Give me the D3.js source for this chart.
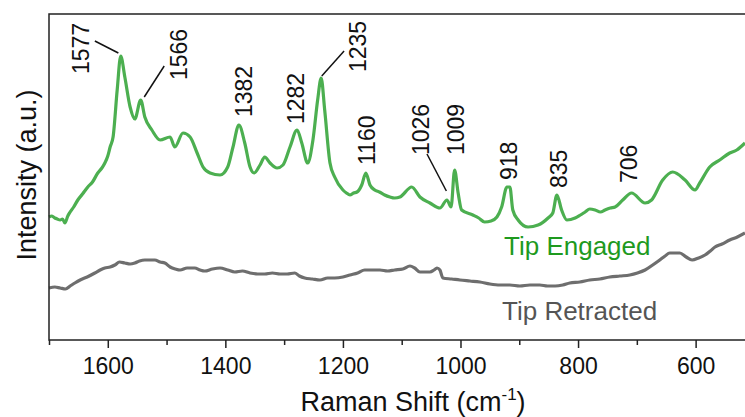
<!DOCTYPE html>
<html>
<head>
<meta charset="utf-8">
<script src="https://cdn.jsdelivr.net/npm/d3@7"></script>
<style>
  body { margin: 0; background: #fff; }
  text { font-family: "Liberation Sans", Arial, sans-serif; }
</style>
</head>
<body>
<script>
var WIDTH = 745, HEIGHT = 417;
var MARGIN = {left: 49, top: 14, right: 0, bottom: 77};

// Tip Engaged spectrum (Raman shift, intensity a.u.)
var engagedShift = [1700,1695,1690,1686,1681,1677,1673,1668,1664,1658,1651,1643,1634,1626,1617,1610,1605,1600,1596,1591,1584,1578,1571,1562,1554,1544,1537,1525,1511,1494,1486,1472,1460,1448,1438,1426,1409,1396,1387,1377,1367,1358,1351,1341,1333,1324,1312,1302,1290,1278,1270,1260,1251,1243,1237,1231,1222,1214,1200,1194,1188,1182,1176,1168,1161,1154,1146,1138,1129,1120,1112,1103,1083,1069,1052,1035,1023,1016,1010,1004,998,979,969,959,948,938,930,921,916,911,902,885,868,851,843,836,828,819,805,796,788,780,771,762,754,745,737,724,709,686,675,656,639,618,601,593,576,559,542,530,516];
var engagedIntensity = [123,124,122,121,120,121,117,124,128,133,140,146,153,158,167,172,177,184,193,203,250,284,263,233,221,240,223,210,200,203,193,207,203,187,173,167,165,173,193,215,197,173,167,175,183,177,172,175,193,210,197,177,200,240,262,230,177,163,150,147,145,147,148,155,167,155,150,148,145,143,142,143,153,143,137,132,140,133,170,147,130,125,122,118,119,123,133,153,153,130,120,113,115,122,127,145,130,120,122,125,128,131,130,128,130,132,133,140,147,137,140,160,168,160,150,157,173,180,187,190,197];

// Tip Retracted spectrum
var retractedShift = [1700,1690,1681,1672,1664,1656,1647,1635,1622,1613,1605,1596,1588,1580,1571,1562,1554,1546,1537,1528,1520,1511,1503,1494,1485,1477,1465,1452,1443,1435,1422,1409,1396,1384,1371,1358,1345,1333,1320,1307,1295,1282,1274,1265,1252,1239,1226,1214,1200,1188,1175,1163,1150,1137,1124,1112,1098,1086,1078,1069,1060,1052,1045,1040,1035,1030,1015,1001,984,967,950,933,916,899,882,865,852,839,826,814,797,780,763,746,729,712,699,686,673,661,652,644,636,627,616,606,595,584,575,567,555,542,529,516];
var retractedIntensity = [52,53,52,51,54,57,60,63,67,70,72,73,75,78,77,76,77,79,80,80,80,78,77,73,71,70,72,72,70,69,71,72,70,68,69,67,66,66,67,66,66,67,64,62,61,60,62,62,63,65,67,70,70,70,69,70,71,74,72,68,68,68,70,72,70,62,61,60,59,58,56,55,55,54,55,55,54,54,55,57,58,60,61,63,64,65,67,70,75,80,84,87,87,87,83,80,82,85,89,93,96,100,103,107];

var xMajorTicks = [1600,1400,1200,1000,800,600];
var xMinorTicks = [1700,1500,1300,1100,900,700];

// peak annotations: label, text anchor (shift, intensity)
var peakLabels = ["1577","1566","1382","1282","1235","1160","1026","1009","918","835","706"];
var peakLabelShift = [1646,1479,1368,1280,1175,1159,1067,1008,918,832,713];
var peakLabelIntensity = [266,260,223,216,268,175,185,185,160,152,157];

// leader lines: [shift1, intensity1, shift2, intensity2]
var leaderLines = [
  [1622,299,1582,287],
  [1504,274,1538,243],
  [1198,289,1236,264],
  [1057,186,1024,149]
];

var INNER_WIDTH = WIDTH - MARGIN.left - MARGIN.right;
var INNER_HEIGHT = HEIGHT - MARGIN.top - MARGIN.bottom;

var svg = d3.select('body').append('svg')
  .attr('width', WIDTH)
  .attr('height', HEIGHT);

var xScale = d3.scaleLinear().domain([1700, 516]).range([MARGIN.left, MARGIN.left + INNER_WIDTH]);
var yScale = d3.scaleLinear().domain([0, 326]).range([MARGIN.top + INNER_HEIGHT, MARGIN.top]);

var line = d3.line()
  .curve(d3.curveMonotoneX)
  .x(function(d){ return xScale(d[0]); })
  .y(function(d){ return yScale(d[1]); });

svg.append('path')
  .datum(d3.zip(retractedShift, retractedIntensity))
  .attr('d', line)
  .attr('fill', 'none')
  .attr('stroke', '#6e6e6e')
  .attr('stroke-width', 3.2)
  .attr('stroke-linejoin', 'round');

svg.append('path')
  .datum(d3.zip(engagedShift, engagedIntensity))
  .attr('d', line)
  .attr('fill', 'none')
  .attr('stroke', '#4caf50')
  .attr('stroke-width', 3.2)
  .attr('stroke-linejoin', 'round');

// frame (right side runs off the canvas)
svg.append('rect')
  .attr('x', MARGIN.left)
  .attr('y', MARGIN.top)
  .attr('width', INNER_WIDTH + 4)
  .attr('height', INNER_HEIGHT)
  .attr('fill', 'none')
  .attr('stroke', '#222')
  .attr('stroke-width', 1.5);

var gx = svg.append('g')
  .attr('transform', 'translate(0,' + (MARGIN.top + INNER_HEIGHT) + ')');
gx.call(d3.axisBottom(xScale).tickValues(xMajorTicks).tickSize(8).tickPadding(10).tickFormat(d3.format('d')));
gx.select('.domain').remove();
gx.selectAll('.tick line').attr('stroke', '#222').attr('stroke-width', 1.5);
gx.selectAll('.tick text').attr('font-size', 23).attr('fill', '#111')
  .style('font-family', '"Liberation Sans", Arial, sans-serif');

var gxm = svg.append('g')
  .attr('transform', 'translate(0,' + (MARGIN.top + INNER_HEIGHT) + ')');
gxm.call(d3.axisBottom(xScale).tickValues(xMinorTicks).tickSize(5).tickFormat(''));
gxm.select('.domain').remove();
gxm.selectAll('.tick line').attr('stroke', '#222').attr('stroke-width', 1.5);

// axis titles
var xt = svg.append('text')
  .attr('x', 413)
  .attr('y', 411)
  .attr('text-anchor', 'middle')
  .attr('font-size', 27)
  .attr('fill', '#111');
xt.append('tspan').text('Raman Shift (cm');
xt.append('tspan').attr('font-size', 17).attr('dy', -11).text('-1');
xt.append('tspan').attr('dy', 11).text(')');

svg.append('text')
  .attr('transform', 'translate(36,175) rotate(-90)')
  .attr('text-anchor', 'middle')
  .attr('font-size', 27)
  .attr('fill', '#111')
  .text('Intensity (a.u.)');

// peak labels
svg.selectAll('.peak').data(peakLabels)
  .enter().append('text')
  .classed('peak', true)
  .attr('transform', function(d, i){
    return 'translate(' + xScale(peakLabelShift[i]) + ',' + yScale(peakLabelIntensity[i]) + ') rotate(-90)';
  })
  .attr('dy', '0.35em')
  .attr('font-size', 23)
  .attr('fill', '#111')
  .text(function(d){ return d; });

svg.selectAll('.leader').data(leaderLines)
  .enter().append('line')
  .classed('leader', true)
  .attr('x1', function(d){ return xScale(d[0]); })
  .attr('y1', function(d){ return yScale(d[1]); })
  .attr('x2', function(d){ return xScale(d[2]); })
  .attr('y2', function(d){ return yScale(d[3]); })
  .attr('stroke', '#111')
  .attr('stroke-width', 1.5);

// series labels
svg.append('text')
  .attr('x', 504).attr('y', 255)
  .attr('font-size', 26)
  .attr('fill', '#1e9a1e')
  .text('Tip Engaged');

svg.append('text')
  .attr('x', 502).attr('y', 320)
  .attr('font-size', 26)
  .attr('fill', '#555')
  .text('Tip Retracted');
</script>
</body>
</html>
